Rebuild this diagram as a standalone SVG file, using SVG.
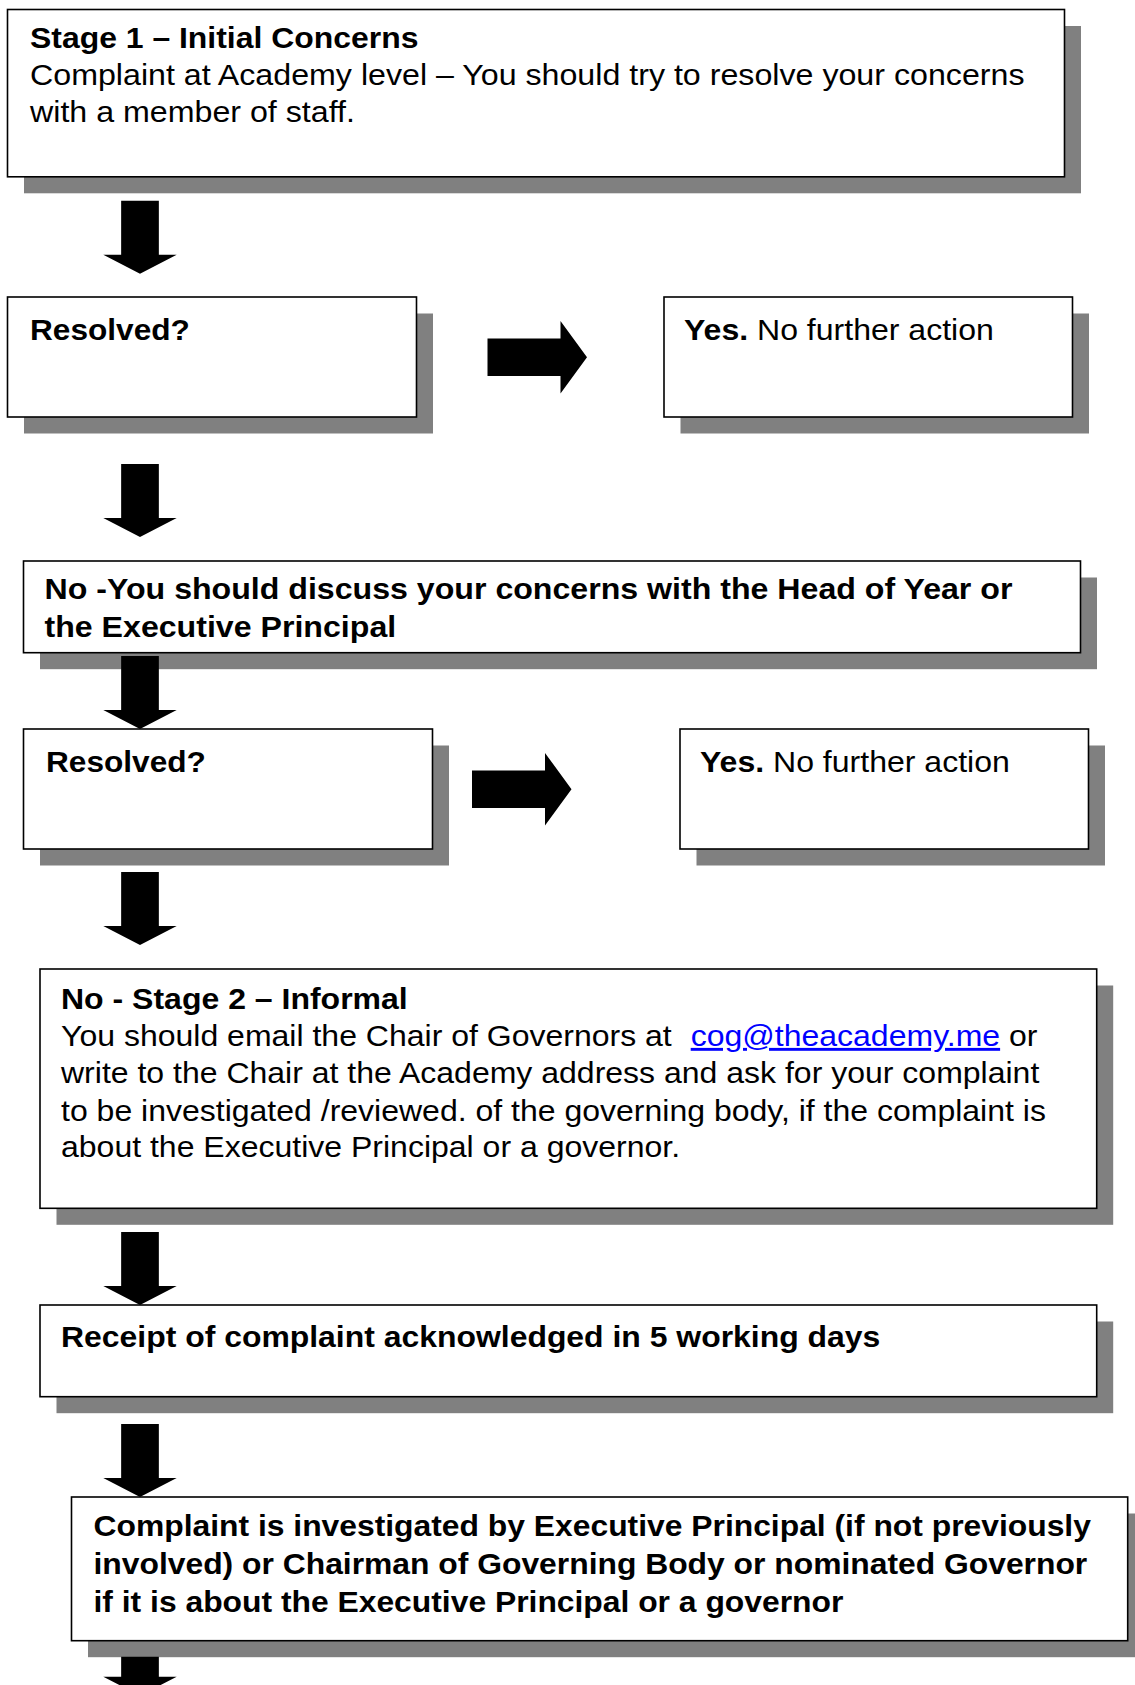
<svg xmlns="http://www.w3.org/2000/svg" width="1135" height="1685" viewBox="0 0 1135 1685">
<style>
.sh{fill:#808080}
.bx{fill:#fff;stroke:#000;stroke-width:1.6}
.t{font-family:"Liberation Sans",Arial,Helvetica,sans-serif;font-size:29px;fill:#000}
.b{font-weight:bold}
.lnk{fill:#0000ff;text-decoration:underline}
.ar{fill:#000}
</style>
<defs>
<path id="darr" d="M-18.85,0 H18.85 V54 H36.7 L0,73 L-36.7,54 H-18.85 Z"/>
<path id="rarr" d="M0,-18.75 H73 V-36.3 L99.5,0 L73,36.3 V18.75 H0 Z"/>
</defs>
<rect width="1135" height="1685" fill="#fff"/>

<g id="stage1">
<rect class="sh" x="24" y="26" width="1057" height="167.3"/>
<rect class="bx" x="7.5" y="9.5" width="1057" height="167.3"/>
<text class="t b" transform="matrix(1.101 0 0 1 30 0)" y="48.3">Stage 1 – Initial Concerns</text>
<text class="t" transform="matrix(1.11 0 0 1 30 0)">
<tspan x="0" y="85">Complaint at Academy level – You should try to resolve your concerns</tspan>
<tspan x="0" y="121.7">with a member of staff.</tspan>
</text>
</g>

<g id="resolved1">
<rect class="sh" x="24" y="313.5" width="409" height="120"/>
<rect class="bx" x="7.5" y="297" width="409" height="120"/>
<text class="t b" transform="matrix(1.09 0 0 1 30 0)" y="340">Resolved?</text>
</g>

<g id="yes1">
<rect class="sh" x="680.5" y="313.5" width="408.5" height="120"/>
<rect class="bx" x="664" y="297" width="408.5" height="120"/>
<text class="t" transform="matrix(1.105 0 0 1 684 0)" y="340"><tspan class="b">Yes.</tspan> No further action</text>
</g>

<g id="headofyear">
<rect class="sh" x="40" y="577.5" width="1057" height="91.7"/>
<rect class="bx" x="23.5" y="561" width="1057" height="91.7"/>
<text class="t b" transform="matrix(1.108 0 0 1 44.5 0)">
<tspan x="0" y="599">No -You should discuss your concerns with the Head of Year or</tspan>
<tspan x="0" y="636.7">the Executive Principal</tspan>
</text>
</g>

<g id="resolved2">
<rect class="sh" x="40" y="745.5" width="409" height="120"/>
<rect class="bx" x="23.5" y="729" width="409" height="120"/>
<text class="t b" transform="matrix(1.09 0 0 1 46 0)" y="772">Resolved?</text>
</g>

<g id="yes2">
<rect class="sh" x="696.5" y="745.5" width="408.5" height="120"/>
<rect class="bx" x="680" y="729" width="408.5" height="120"/>
<text class="t" transform="matrix(1.105 0 0 1 700 0)" y="772"><tspan class="b">Yes.</tspan> No further action</text>
</g>

<g id="stage2">
<rect class="sh" x="56.5" y="985.5" width="1056.7" height="239.3"/>
<rect class="bx" x="40" y="969" width="1056.7" height="239.3"/>
<text class="t" transform="matrix(1.104 0 0 1 61 0)">
<tspan class="b" x="0" y="1009.3">No - Stage 2 – Informal</tspan>
<tspan x="0" y="1046">You should email the Chair of Governors at </tspan><tspan class="lnk" x="570.4" y="1046">cog@theacademy.me</tspan><tspan y="1046"> or</tspan>
<tspan x="0" y="1083.3">write to the Chair at the Academy address and ask for your complaint</tspan>
<tspan x="0" y="1120.7">to be investigated /reviewed. of the governing body, if the complaint is</tspan>
<tspan x="0" y="1157.3">about the Executive Principal or a governor.</tspan>
</text>
</g>

<g id="receipt">
<rect class="sh" x="56.5" y="1321.5" width="1056.7" height="91.7"/>
<rect class="bx" x="40" y="1305" width="1056.7" height="91.7"/>
<text class="t b" transform="matrix(1.101 0 0 1 61 0)" y="1347.3">Receipt of complaint acknowledged in 5 working days</text>
</g>

<g id="investigated">
<rect class="sh" x="88" y="1513.5" width="1056.2" height="143.7"/>
<rect class="bx" x="71.5" y="1497" width="1056.2" height="143.7"/>
<text class="t b" transform="matrix(1.098 0 0 1 93.5 0)">
<tspan x="0" y="1536">Complaint is investigated by Executive Principal (if not previously</tspan>
<tspan x="0" y="1574">involved) or Chairman of Governing Body or nominated Governor</tspan>
<tspan x="0" y="1611.7">if it is about the Executive Principal or a governor</tspan>
</text>
</g>

<g id="connectors" class="ar">
<use href="#darr" x="140" y="200.7"/>
<use href="#rarr" x="487.5" y="357.2"/>
<use href="#darr" x="140" y="464"/>
<use href="#darr" x="140" y="656"/>
<use href="#rarr" x="472" y="789.2"/>
<use href="#darr" x="140" y="872"/>
<use href="#darr" x="140" y="1232"/>
<use href="#darr" x="140" y="1424"/>
<path d="M121.15,1656.7 H158.85 V1676.7 H176.7 L140,1695.7 L103.3,1676.7 H121.15 Z"/>
</g>
</svg>
